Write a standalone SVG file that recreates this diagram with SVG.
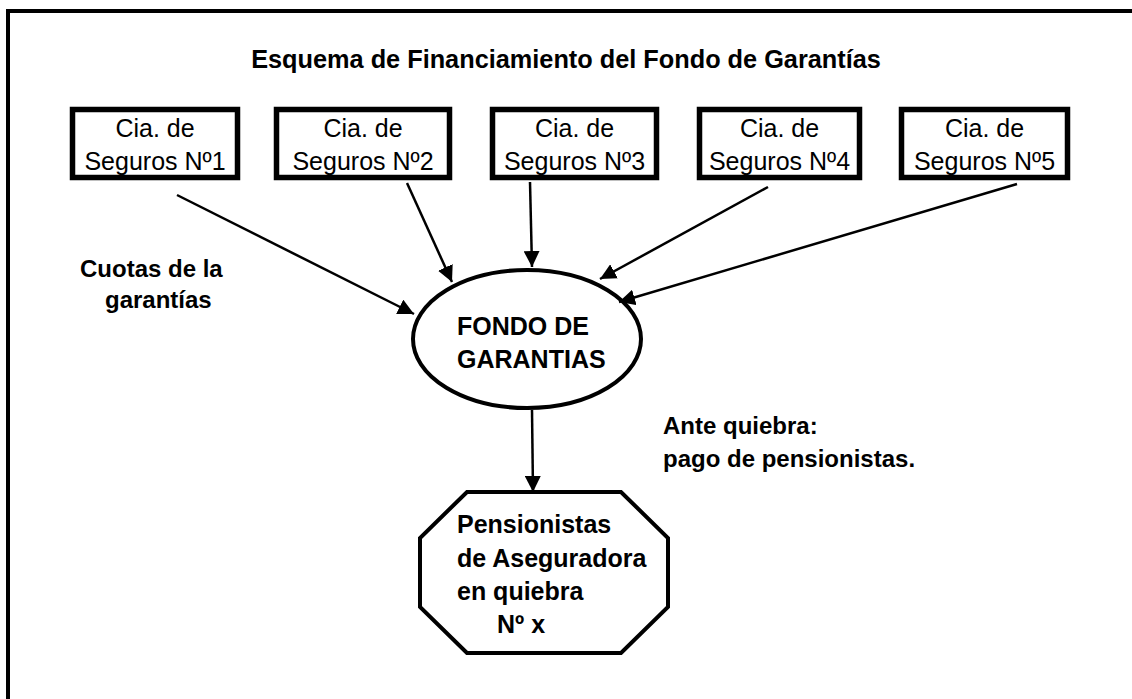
<svg xmlns="http://www.w3.org/2000/svg" width="1132" height="699" viewBox="0 0 1132 699">
<style>
.box{fill:#fff;stroke:#000;stroke-width:5.5}
.shape{fill:#fff;stroke:#000;stroke-width:4}
.reg{font-family:"Liberation Sans",Arial,sans-serif;font-size:25px;fill:#000;text-anchor:middle}
.bold{font-family:"Liberation Sans",Arial,sans-serif;font-size:24px;font-weight:bold;fill:#000}
.big{font-size:25px}
.conn{stroke:#000;stroke-width:2.5;fill:none;marker-end:url(#ah)}
</style>
<defs>
<marker id="ah" viewBox="0 0 16 16" markerWidth="16" markerHeight="16" refX="16" refY="8" orient="auto" markerUnits="userSpaceOnUse">
<path d="M0,0 L16,8 L0,16 z" fill="#000"/>
</marker>
</defs>
<rect x="0" y="0" width="1132" height="699" fill="#fff"/>
<path d="M8,710 V11 H1140" fill="none" stroke="#000" stroke-width="4"/>
<text id="title" class="bold" x="566" y="68" text-anchor="middle" style="font-size:25.3px">Esquema de Financiamiento del Fondo de Garantías</text>
<g id="cia1"><rect class="box" x="72.5" y="109.5" width="165" height="68"/><text class="reg" x="155" y="137">Cia. de</text><text class="reg" x="155" y="170">Seguros Nº1</text></g>
<g id="cia2"><rect class="box" x="276.5" y="109.5" width="173" height="68"/><text class="reg" x="363" y="137">Cia. de</text><text class="reg" x="363" y="170">Seguros Nº2</text></g>
<g id="cia3"><rect class="box" x="492.5" y="109.5" width="164" height="68"/><text class="reg" x="574.5" y="137">Cia. de</text><text class="reg" x="574.5" y="170">Seguros Nº3</text></g>
<g id="cia4"><rect class="box" x="699.5" y="109.5" width="160" height="68"/><text class="reg" x="779.5" y="137">Cia. de</text><text class="reg" x="779.5" y="170">Seguros Nº4</text></g>
<g id="cia5"><rect class="box" x="901.5" y="109.5" width="166" height="68"/><text class="reg" x="984.5" y="137">Cia. de</text><text class="reg" x="984.5" y="170">Seguros Nº5</text></g>
<g id="fondo"><ellipse class="shape" cx="527" cy="339" rx="114" ry="69"/><text class="bold big" x="457" y="335">FONDO DE</text><text class="bold big" x="457" y="368">GARANTIAS</text></g>
<g id="pensionistas"><polygon class="shape" points="467,492 621,492 668,538 668,607 621,653 467,653 420,607 420,538"/><text class="bold big" x="457" y="533">Pensionistas</text><text class="bold big" x="457" y="567">de Aseguradora</text><text class="bold big" x="457" y="600">en quiebra</text><text class="bold big" x="497" y="633">Nº x</text></g>
<g id="label-cuotas"><text class="bold" x="80" y="277">Cuotas de la</text><text class="bold" x="105" y="308">garantías</text></g>
<g id="label-quiebra"><text class="bold" x="663" y="434">Ante quiebra:</text><text class="bold" x="663" y="467">pago de pensionistas.</text></g>
<g id="connectors">
<line class="conn" x1="177" y1="195" x2="414" y2="314"/>
<line class="conn" x1="407" y1="183" x2="452" y2="282"/>
<line class="conn" x1="530" y1="182" x2="532" y2="267"/>
<line class="conn" x1="768" y1="187" x2="600" y2="279"/>
<line class="conn" x1="1017" y1="184" x2="619" y2="302"/>
<line class="conn" x1="532" y1="410" x2="533" y2="492"/>
</g>
</svg>
